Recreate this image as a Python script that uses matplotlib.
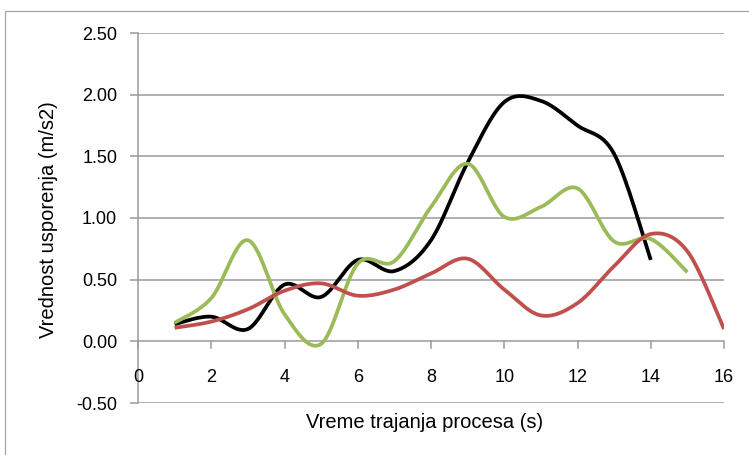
import numpy as np
import matplotlib
matplotlib.use("Agg")
import matplotlib.pyplot as plt
from matplotlib.patches import Rectangle

plt.rcParams['font.family'] = ['Liberation Sans', 'DejaVu Sans']

x_black = [1, 2, 3, 4, 5, 6, 7, 8, 9, 10, 11, 12, 13, 14]
y_black = [0.14, 0.20, 0.10, 0.46, 0.36, 0.66, 0.57, 0.82, 1.45, 1.94, 1.95, 1.75, 1.52, 0.66]

x_green = [1, 2, 3, 4, 5, 6, 7, 8, 9, 10, 11, 12, 13, 14, 15]
y_green = [0.15, 0.35, 0.82, 0.22, -0.02, 0.63, 0.65, 1.09, 1.44, 1.01, 1.09, 1.24, 0.81, 0.83, 0.56]

x_red = [1, 2, 3, 4, 5, 6, 7, 8, 9, 10, 11, 12, 13, 14, 15, 16]
y_red = [0.11, 0.16, 0.26, 0.41, 0.47, 0.37, 0.42, 0.55, 0.67, 0.42, 0.21, 0.31, 0.61, 0.87, 0.73, 0.10]

x_ticks = [0, 2, 4, 6, 8, 10, 12, 14, 16]
y_ticks = [-0.5, 0.0, 0.5, 1.0, 1.5, 2.0, 2.5]


def smooth(xs, ys, n=30):
    P = np.column_stack([xs, ys]).astype(float)
    m = len(P)
    out = []
    for i in range(m - 1):
        p0 = P[max(i - 1, 0)]
        p1 = P[i]
        p2 = P[i + 1]
        p3 = P[min(i + 2, m - 1)]
        c1 = p1 + (p2 - p0) / 6.0
        c2 = p2 - (p3 - p1) / 6.0
        t = np.linspace(0, 1, n)[:, None]
        seg = ((1 - t) ** 3) * p1 + 3 * ((1 - t) ** 2) * t * c1 + 3 * (1 - t) * t ** 2 * c2 + t ** 3 * p2
        out.append(seg if i == 0 else seg[1:])
    S = np.vstack(out)
    return S[:, 0], S[:, 1]


fig = plt.figure(figsize=(7.49, 4.55), dpi=100)
ax = fig.add_axes([138 / 749, 1 - 403 / 455, (724 - 138) / 749, (403 - 33) / 455])

# outer chart border
fig.patches.append(Rectangle((5 / 749, -0.1), 1.2, (455 - 11) / 455 + 0.1,
                             transform=fig.transFigure, fill=False,
                             edgecolor='#a6a6a6', linewidth=0.9))

ax.set_xlim(0, 16)
ax.set_ylim(-0.5, 2.5)

grid_c = '#9a9a9a'
for yv in y_ticks:
    ax.axhline(yv, color=grid_c, linewidth=1.1, zorder=1)

for s in ['top', 'right', 'bottom']:
    ax.spines[s].set_visible(False)
ax.spines['left'].set_color(grid_c)
ax.spines['left'].set_linewidth(1.1)

# x-axis tick marks at y=0
for xv in x_ticks:
    ax.plot([xv, xv], [0, -0.05], color=grid_c, linewidth=1.1, clip_on=False, zorder=1)
    ax.text(xv, -0.29, f"{xv}", ha='center', va='center', fontsize=13, color='black')

ax.set_xticks([])
ax.set_yticks(y_ticks)
ax.set_yticklabels([f"{v:.2f}" for v in y_ticks], fontsize=13)
ax.tick_params(axis='y', length=5.5, color=grid_c, width=1.1, pad=9.5)

for xs, ys, c in [(x_black, y_black, '#000000'),
                  (x_green, y_green, '#9bbb59'),
                  (x_red, y_red, '#c0504d')]:
    sx, sy = smooth(xs, ys)
    ax.plot(sx, sy, color=c, linewidth=2.7, solid_capstyle='butt', zorder=3)

fig.text(49 / 749, 1 - 220 / 455, "Vrednost usporenja (m/s2)", ha='center', va='center',
         rotation=90, fontsize=14.5)
fig.text(425 / 749, 1 - 422 / 455, "Vreme trajanja procesa (s)", ha='center', va='center', fontsize=14.5)

fig.savefig("out.png", dpi=100)
